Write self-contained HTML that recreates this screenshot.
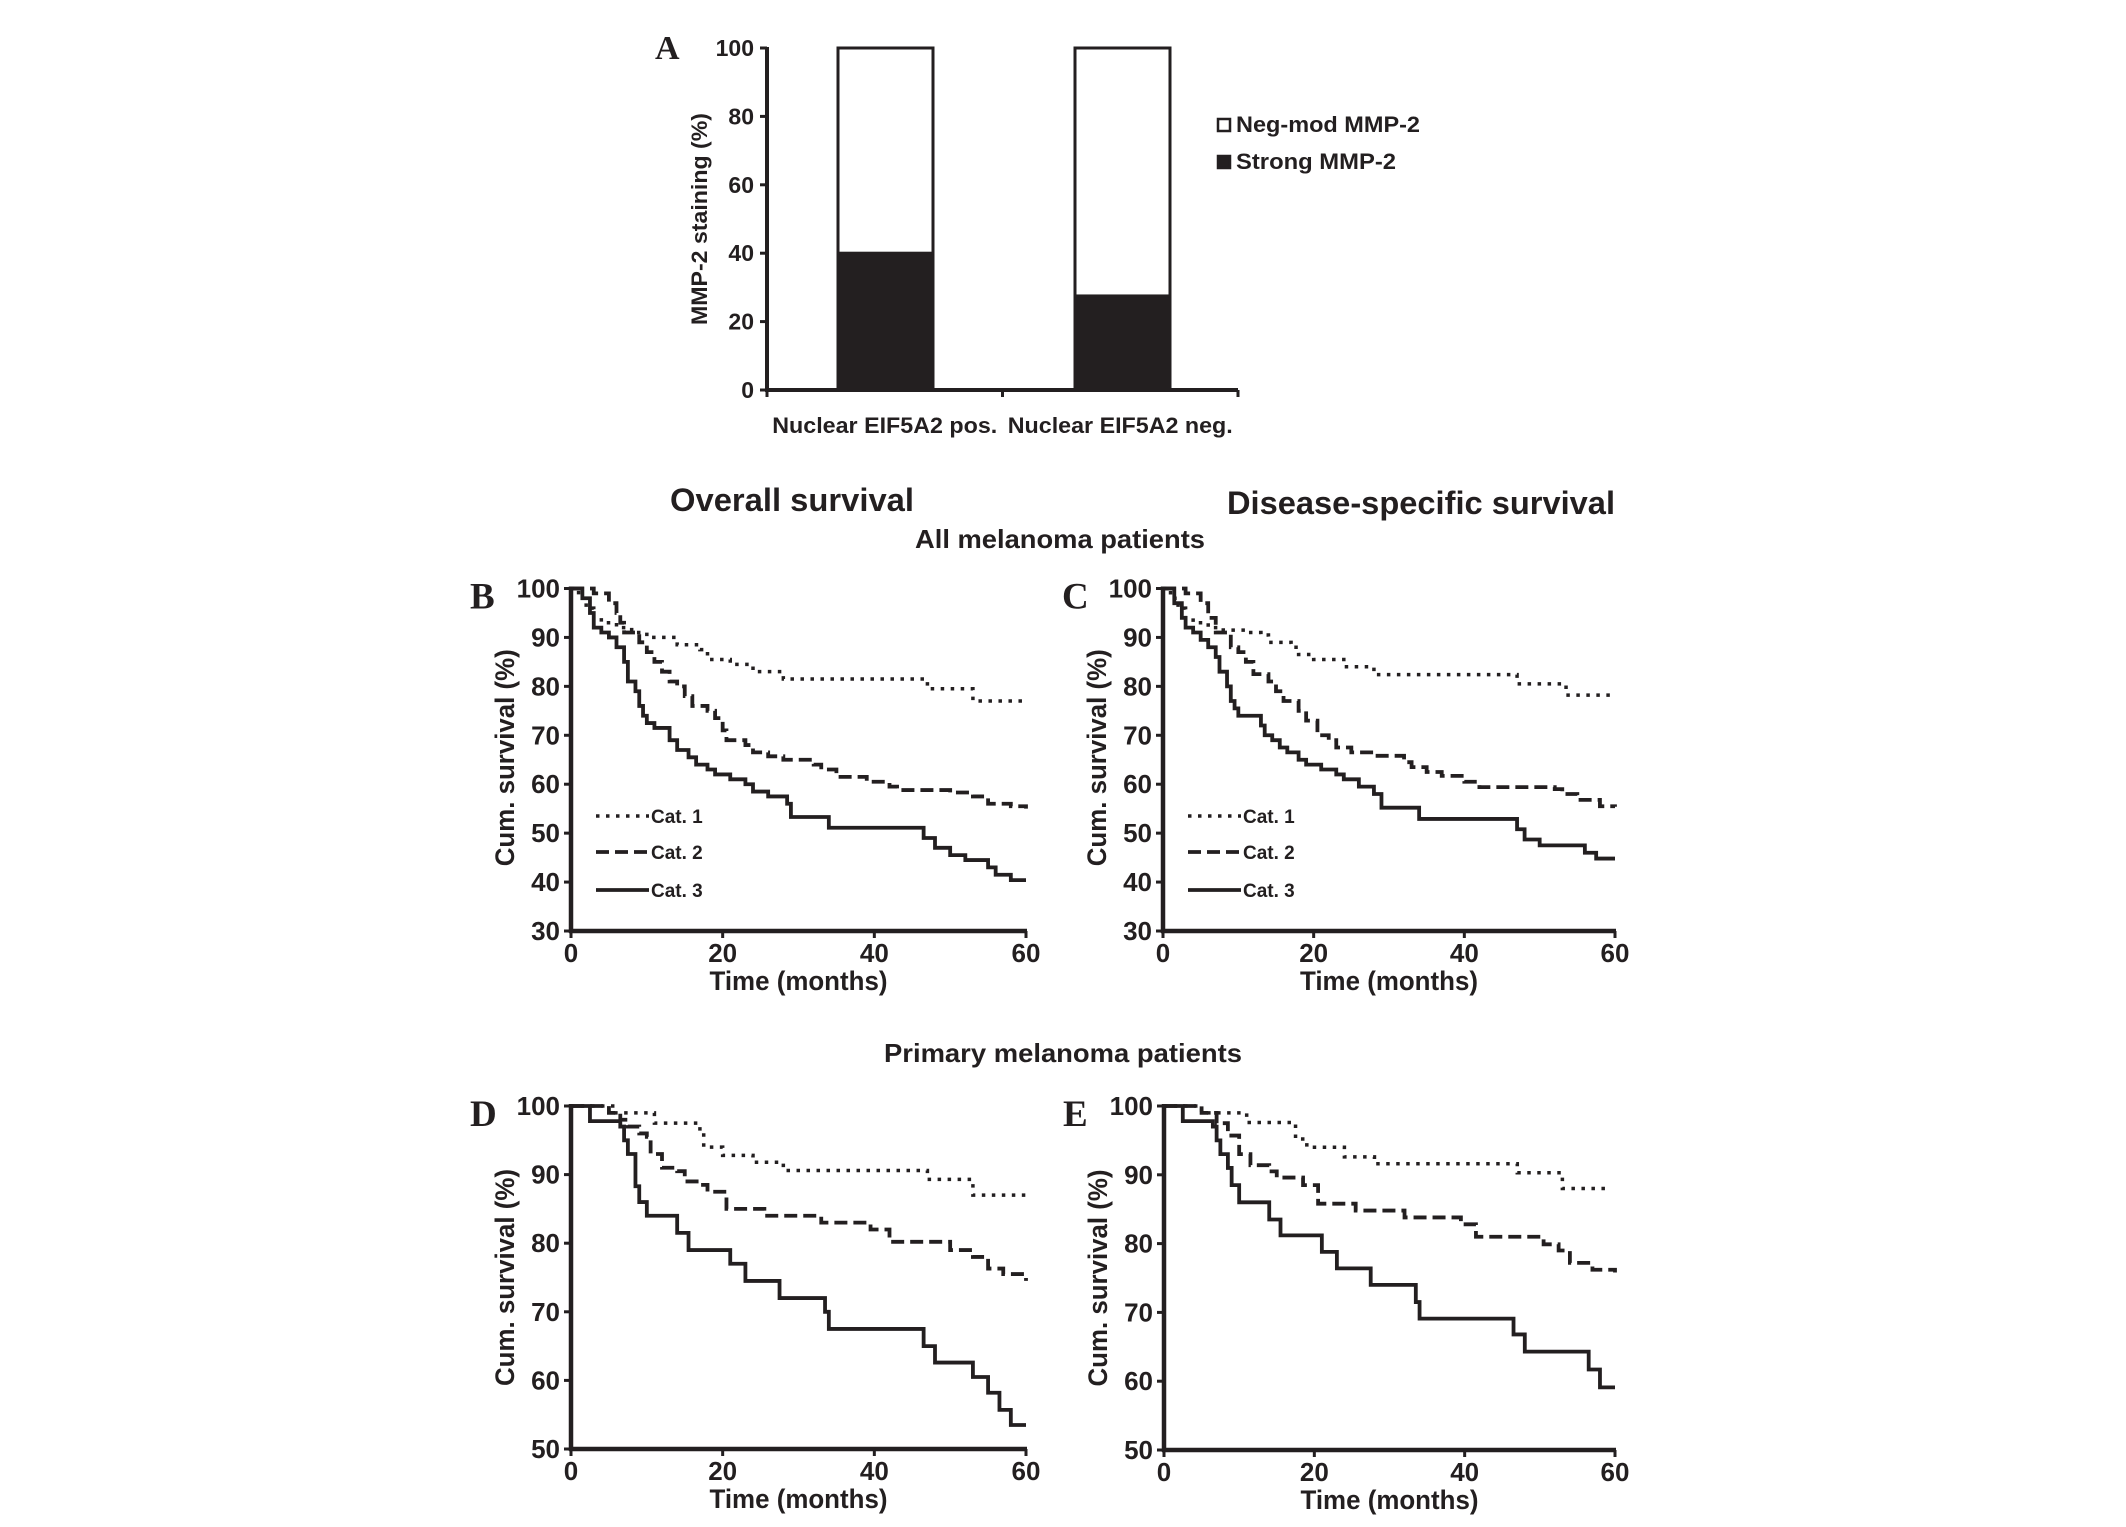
<!DOCTYPE html>
<html><head><meta charset="utf-8"><style>
html,body{margin:0;padding:0;background:#fff}
svg{display:block}
text{font-family:"Liberation Sans",Arial,sans-serif;font-weight:bold;fill:#231f20}
.lt{font-family:"Liberation Serif",serif;font-weight:bold}
</style></head><body>
<svg id="fig" width="2126" height="1527" viewBox="0 0 2126 1527">
<g id="titles">
<text x="670" y="511" font-size="32" textLength="244" lengthAdjust="spacingAndGlyphs">Overall survival</text>
<text x="1227" y="514" font-size="32" textLength="388" lengthAdjust="spacingAndGlyphs">Disease-specific survival</text>
<text x="915" y="548" font-size="26" textLength="290" lengthAdjust="spacingAndGlyphs">All melanoma patients</text>
<text x="884" y="1062" font-size="26" textLength="358" lengthAdjust="spacingAndGlyphs">Primary melanoma patients</text>
</g>
</svg>
<script>
// ---- Panel A data ----
const barCategories = ["Nuclear EIF5A2 pos.", "Nuclear EIF5A2 neg."];
const strongValues = [40, 27.5];
const negModValues = [60, 72.5];
const barTicks = [0, 20, 40, 60, 80, 100];

// ---- Panel B (overall survival, all patients) ----
const B_t1 = [0,1,2,3,4,6,8,10,14,17,18,21,24,28,47,53,60];
const B_s1 = [100,98,96,94,93,92,91,90,88.5,87.5,85.5,84.5,83,81.5,79.5,77,77];
const B_t2 = [0,2,3,5,6,6.5,7,9,10,11,12,13,14,15,16,18,19,20,20.5,23,24,26,28,32,33,35,39,42,43,50,53,55,58,60];
const B_s2 = [100,100,99,97,95,93,91,89,87,85,83,81,80,78,76,75,73.5,71,69,68,66.5,65.7,65,64,63,61.5,60.5,59.5,58.8,58.3,57.5,56,55.5,55];
const B_t3 = [0,1,1.5,2.5,3,4,5,6,7,7.5,8.5,9,9.5,10,11,13,14,15.5,16.5,18,19,21,23,24,26,28.5,29,34,46.5,48,50,52,55,56,58,60];
const B_s3 = [100,100,98,95,92,91,90,88,85,81,79,76,74,72.5,71.5,69,67,65.5,64,63,62,61,60,58.5,57.5,56,53.3,51.1,49,47,45.5,44.5,43,41.5,40.4,40.4];

// ---- Panel C (disease-specific, all patients) ----
const C_t1 = [0,1,2,3,4,6,8,11,13,14,17,18,20,24,28,47,53.5,60];
const C_s1 = [100,98,96,94,93,92,91.5,91,90.5,89,88,86.5,85.5,84,82.4,80.5,78.2,78.2];
const C_t2 = [0,2,3,5,6,7,9,10,11,12,14,15,16,18,19,20.5,22,23,25,28,32,33,35,37,40,42,52,53,55,58,60];
const C_s2 = [100,100,99,97,94,91,88,87,85,82.5,81,79,77,75,73,70,69,67.5,66.5,65.8,64.5,63.5,62.5,61.7,60.5,59.4,59,58,56.8,55.5,55.4];
const C_t3 = [0,1,1.5,2.5,3,4,5,6,7,7.5,8.5,9,9.5,10,13,13.5,14.5,15.5,16.5,18,19,21,23,24,26,28,29,34,47,48,50,56,57.5,60];
const C_s3 = [100,100,97,94,92,91,89.5,88,86,83,80,77,75.5,74,72,70,69,67.5,66.5,65,64,63,62,61,59.5,58,55.2,52.9,50.8,48.7,47.5,46,44.8,44.8];

// ---- Panel D (overall survival, primary) ----
const D_t1 = [0,4.5,5.5,11,17,17.5,20,24,28,47,53,60];
const D_s1 = [100,100,99,97.5,96.4,94,92.8,91.8,90.6,89.3,87,87];
const D_t2 = [0,4,5,6.5,7.5,9,10,10.5,12,14,15,17,18,20.5,25.5,33,39.5,42,50,53,55,57,60];
const D_s2 = [100,100,99,98,97,96,95.5,93,91,90.5,89,88.5,87.5,85,84,83,82,80.2,79,78,76.3,75.5,74.5];
const D_t3 = [0,2.5,6.5,7,7.5,8.5,9,10,14,15.5,21,23,27.5,33.5,34,46.5,48,53,55,56.5,58,60];
const D_s3 = [100,97.8,97,95,93,88.3,86,84,81.5,79,77,74.5,72,70,67.5,65,62.6,60.5,58.2,55.7,53.5,53.5];

// ---- Panel E (disease-specific, primary) ----
const E_t1 = [0,4.5,5,11,17.5,19,24,28,47,53,59];
const E_s1 = [100,100,99,97.6,95.2,94,92.6,91.6,90.3,88,88];
const E_t2 = [0,4,5,7,8.5,10,11.5,14,15,18.5,20.5,25.5,32,39.5,41.5,50.5,52.5,54,57,60];
const E_s2 = [100,100,99,97.5,95.7,93,91.4,90.5,89.6,88.5,85.8,84.8,83.8,82.8,81,79.9,79,77.2,76.2,75.8];
const E_t3 = [0,2.5,6.5,7,7.5,8.5,9,10,14,15.5,21,23,27.5,33.5,34,46.5,48,56.5,58,60];
const E_s3 = [100,97.8,97,95,93,91,88.5,86,83.5,81.2,78.8,76.4,74,71.5,69.1,66.8,64.3,61.7,59.1,59.1];

const kmTicksX = [0, 20, 40, 60];
const kmTicksYTop = [30, 40, 50, 60, 70, 80, 90, 100];
const kmTicksYBottom = [50, 60, 70, 80, 90, 100];
const legendLabels = ["Cat. 1", "Cat. 2", "Cat. 3"];

const NS = "http://www.w3.org/2000/svg";
const svg = document.getElementById("fig");
function mk(tag, attrs, parent) {
  const e = document.createElementNS(NS, tag);
  for (const k in attrs) e.setAttribute(k, attrs[k]);
  (parent || svg).appendChild(e);
  return e;
}
const INK = "#231f20";
const styles = [
  {dash: "3.5 6.5", cap: "butt", w: 3.5},
  {dash: "13 6", cap: "butt", w: 3.8},
  {dash: "none", cap: "butt", w: 3.8}
];

// ---- Panel A ----
(function () {
  const g = mk("g", {});
  
  
  const x0 = 767, x1 = 1238, y0 = 390, y100 = 48;
  const ya = v => y0 - (v / 100) * (y0 - y100);
  const barX = [838, 1075], bw = 95;
  for (let i = 0; i < barCategories.length; i++) {
    const r1 = mk("rect", {x: barX[i], y: ya(strongValues[i]), width: bw, height: ya(0) - ya(strongValues[i]), fill: INK, stroke: INK, "stroke-width": 3}, g);
    
    
    const top = strongValues[i] + negModValues[i];
    const r2 = mk("rect", {x: barX[i], y: ya(top), width: bw, height: ya(strongValues[i]) - ya(top), fill: "#fff", stroke: INK, "stroke-width": 3}, g);
    
    
    const t = mk("text", {x: (x0 + (x1 - x0) * (i + 0.5) / 2), y: 433, "font-size": 22, "text-anchor": "middle", textLength: 225, lengthAdjust: "spacingAndGlyphs"}, g);
    t.textContent = barCategories[i];
    
    
  }
  mk("line", {x1: x0, y1: y100 - 1, x2: x0, y2: y0 + 2, stroke: INK, "stroke-width": 4}, g);
  const xa = mk("line", {x1: x0 - 2, y1: y0, x2: x1, y2: y0, stroke: INK, "stroke-width": 4}, g);
  
  
  [x0, (x0 + x1) / 2, x1].forEach(x => mk("line", {x1: x, y1: y0, x2: x, y2: y0 + 7, stroke: INK, "stroke-width": 3}, g));
  barTicks.forEach(v => {
    mk("line", {x1: x0 - 7, y1: ya(v), x2: x0, y2: ya(v), stroke: INK, "stroke-width": 3}, g);
    const t = mk("text", {x: x0 - 13, y: ya(v) + 8, "font-size": 23, "text-anchor": "end"}, g);
    t.textContent = v;
    
    
  });
  const yl = mk("text", {x: 0, y: 0, "font-size": 22, "text-anchor": "middle", transform: "translate(707,219) rotate(-90)", textLength: 212, lengthAdjust: "spacingAndGlyphs"}, g);
  yl.textContent = "MMP-2 staining (%)";
  
  
  const la = mk("text", {x: 655, y: 59, "font-size": 34, class: "lt"}, g);
  la.textContent = "A";
  
  
  const leg = [["Neg-mod MMP-2", "#fff", 132], ["Strong MMP-2", INK, 169]];
  leg.forEach((l, i) => {
    const sq = mk("rect", {x: 1218, y: l[2] - 13, width: 12, height: 12, fill: l[1], stroke: INK, "stroke-width": 2.5}, g);
    
    
    const t = mk("text", {x: 1236, y: l[2], "font-size": 22, textLength: i === 0 ? 184 : 160, lengthAdjust: "spacingAndGlyphs"}, g);
    t.textContent = l[0];
    
    
  });
})();

// ---- KM panels ----
function km(p) {
  const g = mk("g", {});
  
  
  const xs = t => p.x0 + (t / 60) * (p.x60 - p.x0);
  const ys = v => p.yTop + (100 - v) / (100 - p.ymin) * (p.yBot - p.yTop);
  p.series.forEach((s, i) => {
    const T = s[0], S = s[1];
    let d = "M" + xs(T[0]) + "," + ys(S[0]);
    for (let k = 1; k < T.length; k++) d += " H" + xs(T[k]) + " V" + ys(S[k]);
    const path = mk("path", {d: d, fill: "none", stroke: INK, "stroke-width": styles[i].w, "stroke-dasharray": styles[i].dash, "stroke-linecap": styles[i].cap, "stroke-linejoin": "miter"}, g);
    
    
  });
  const ya = mk("line", {x1: p.x0, y1: p.yTop - 2, x2: p.x0, y2: p.yBot + 2, stroke: INK, "stroke-width": 4.5}, g);
  
  
  const xa = mk("line", {x1: p.x0 - 2, y1: p.yBot, x2: p.x60 + 1, y2: p.yBot, stroke: INK, "stroke-width": 4.5}, g);
  
  
  p.ticksY.forEach(v => {
    mk("line", {x1: p.x0 - 7, y1: ys(v), x2: p.x0, y2: ys(v), stroke: INK, "stroke-width": 3}, g);
    const t = mk("text", {x: p.x0 - 11, y: ys(v) + 9, "font-size": 26, "text-anchor": "end"}, g);
    t.textContent = v;
    
    
  });
  kmTicksX.forEach(v => {
    mk("line", {x1: xs(v), y1: p.yBot, x2: xs(v), y2: p.yBot + 7, stroke: INK, "stroke-width": 3}, g);
    const t = mk("text", {x: xs(v), y: p.yBot + 31, "font-size": 26, "text-anchor": "middle"}, g);
    t.textContent = v;
    
    
  });
  const xt = mk("text", {x: (p.x0 + p.x60) / 2, y: p.yBot + 59, "font-size": 27, "text-anchor": "middle", textLength: 178, lengthAdjust: "spacingAndGlyphs"}, g);
  xt.textContent = "Time (months)";
  
  
  const cy = (p.yTop + p.yBot) / 2 + (p.id === 'b' || p.id === 'c' ? -2 : 0);
  const yt = mk("text", {x: 0, y: 0, "font-size": 27, "text-anchor": "middle", transform: "translate(" + (p.x0 - 57) + "," + cy + ") rotate(-90)", textLength: 217, lengthAdjust: "spacingAndGlyphs"}, g);
  yt.textContent = "Cum. survival (%)";
  
  
  const lt = mk("text", {x: p.x0 - 101, y: p.yTop + 20, "font-size": 37, class: "lt"}, g);
  lt.textContent = p.id.toUpperCase();
  
  
  if (p.legend) {
    legendLabels.forEach((lab, i) => {
      const yy = p.legY[i];
      const ln = mk("line", {x1: p.x0 + 25, y1: yy, x2: p.x0 + 78, y2: yy, stroke: INK, "stroke-width": styles[i].w, "stroke-dasharray": styles[i].dash}, g);
      
      
      const t = mk("text", {x: p.x0 + 80, y: yy + 7, "font-size": 19}, g);
      t.textContent = lab;
      
      
    });
  }
}
km({id: 'b', x0: 571, x60: 1026, yTop: 588.5, yBot: 931, ymin: 30, ticksY: kmTicksYTop, legend: true, legY: [816, 852, 890],
  series: [[B_t1, B_s1], [B_t2, B_s2], [B_t3, B_s3]]});
km({id: 'c', x0: 1163, x60: 1615, yTop: 588.5, yBot: 931, ymin: 30, ticksY: kmTicksYTop, legend: true, legY: [816, 852, 890],
  series: [[C_t1, C_s1], [C_t2, C_s2], [C_t3, C_s3]]});
km({id: 'd', x0: 571, x60: 1026, yTop: 1106, yBot: 1449, ymin: 50, ticksY: kmTicksYBottom, legend: false,
  series: [[D_t1, D_s1], [D_t2, D_s2], [D_t3, D_s3]]});
km({id: 'e', x0: 1164, x60: 1615, yTop: 1106, yBot: 1450, ymin: 50, ticksY: kmTicksYBottom, legend: false,
  series: [[E_t1, E_s1], [E_t2, E_s2], [E_t3, E_s3]]});
</script>
</body></html>
